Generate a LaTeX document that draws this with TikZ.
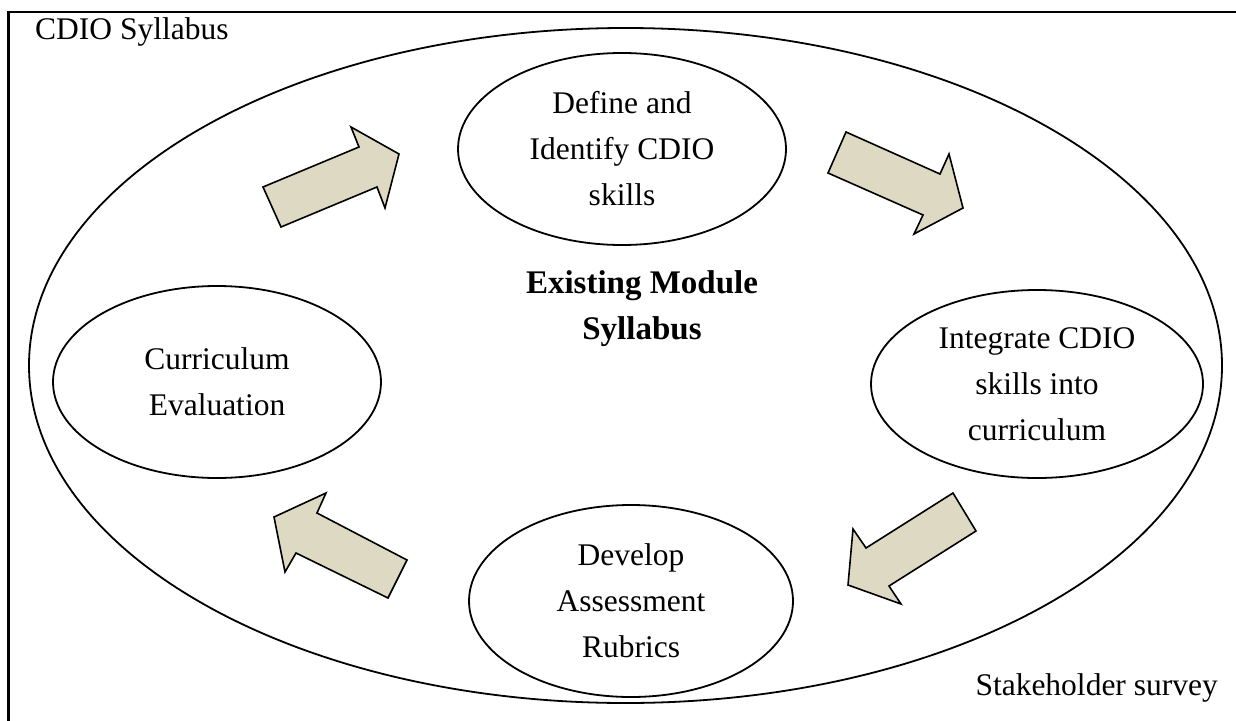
\documentclass[tikz,border=0pt]{standalone}
\usepackage{fontspec}
\setmainfont{Liberation Serif}
\usetikzlibrary{shapes.geometric}
\definecolor{arrowfill}{RGB}{221,217,195}
\tikzset{
  inner/.style={draw, line width=1.8pt, ellipse, minimum width=328pt, minimum height=192pt, inner sep=0pt, align=center, font=\fontsize{31.5}{46}\selectfont},
  blockarrow/.style={draw, line width=1.6pt, fill=arrowfill, line join=miter},
  plain/.style={font=\fontsize{31.5}{46}\selectfont, inner sep=0pt}
}
\begin{document}
\begin{tikzpicture}[x=1pt,y=-1pt]
\useasboundingbox (0,0) rectangle (1236,720);
\clip (0,0) rectangle (1236,720);
\draw[line width=2.2pt] (8.5,12) rectangle (1260,740);
\node[plain, anchor=base west] (cdio) at (35,39) {CDIO Syllabus};
\node[plain, anchor=base east] (stake) at (1218,695) {Stakeholder survey};
\node[draw, line width=1.8pt, ellipse, minimum width=1193pt, minimum height=675pt] (big) at (625.5,365.5) {};
\node[inner] (define) at (622,149) {Define and\\Identify CDIO\\skills};
\node[inner] (eval) at (217,382) {Curriculum\\Evaluation};
\node[inner, minimum width=332pt, minimum height=188pt] (integ) at (1037,384) {Integrate CDIO\\skills into\\curriculum};
\node[inner, minimum width=324pt] (develop) at (631,601) {Develop\\Assessment\\Rubrics};
\node[align=center, inner sep=0pt, font=\fontsize{33}{46}\selectfont\bfseries] (exist) at (642,309) {Existing Module\\Syllabus};
\draw[blockarrow] (263,187) -- (359,147) -- (351,127) -- (399,154) -- (385,208) -- (377,187) -- (281,227) -- cycle;
\draw[blockarrow] (846,132) -- (940,174) -- (949,154) -- (963,208) -- (914,234) -- (923,215) -- (828,173) -- cycle;
\draw[blockarrow] (953,493) -- (976,531) -- (889,586) -- (901,604) -- (848,585) -- (853,529) -- (866,548) -- cycle;
\draw[blockarrow] (407,560) -- (317,513) -- (326,493) -- (274,517) -- (285,572) -- (296,553) -- (388,598) -- cycle;
\end{tikzpicture}
\end{document}
